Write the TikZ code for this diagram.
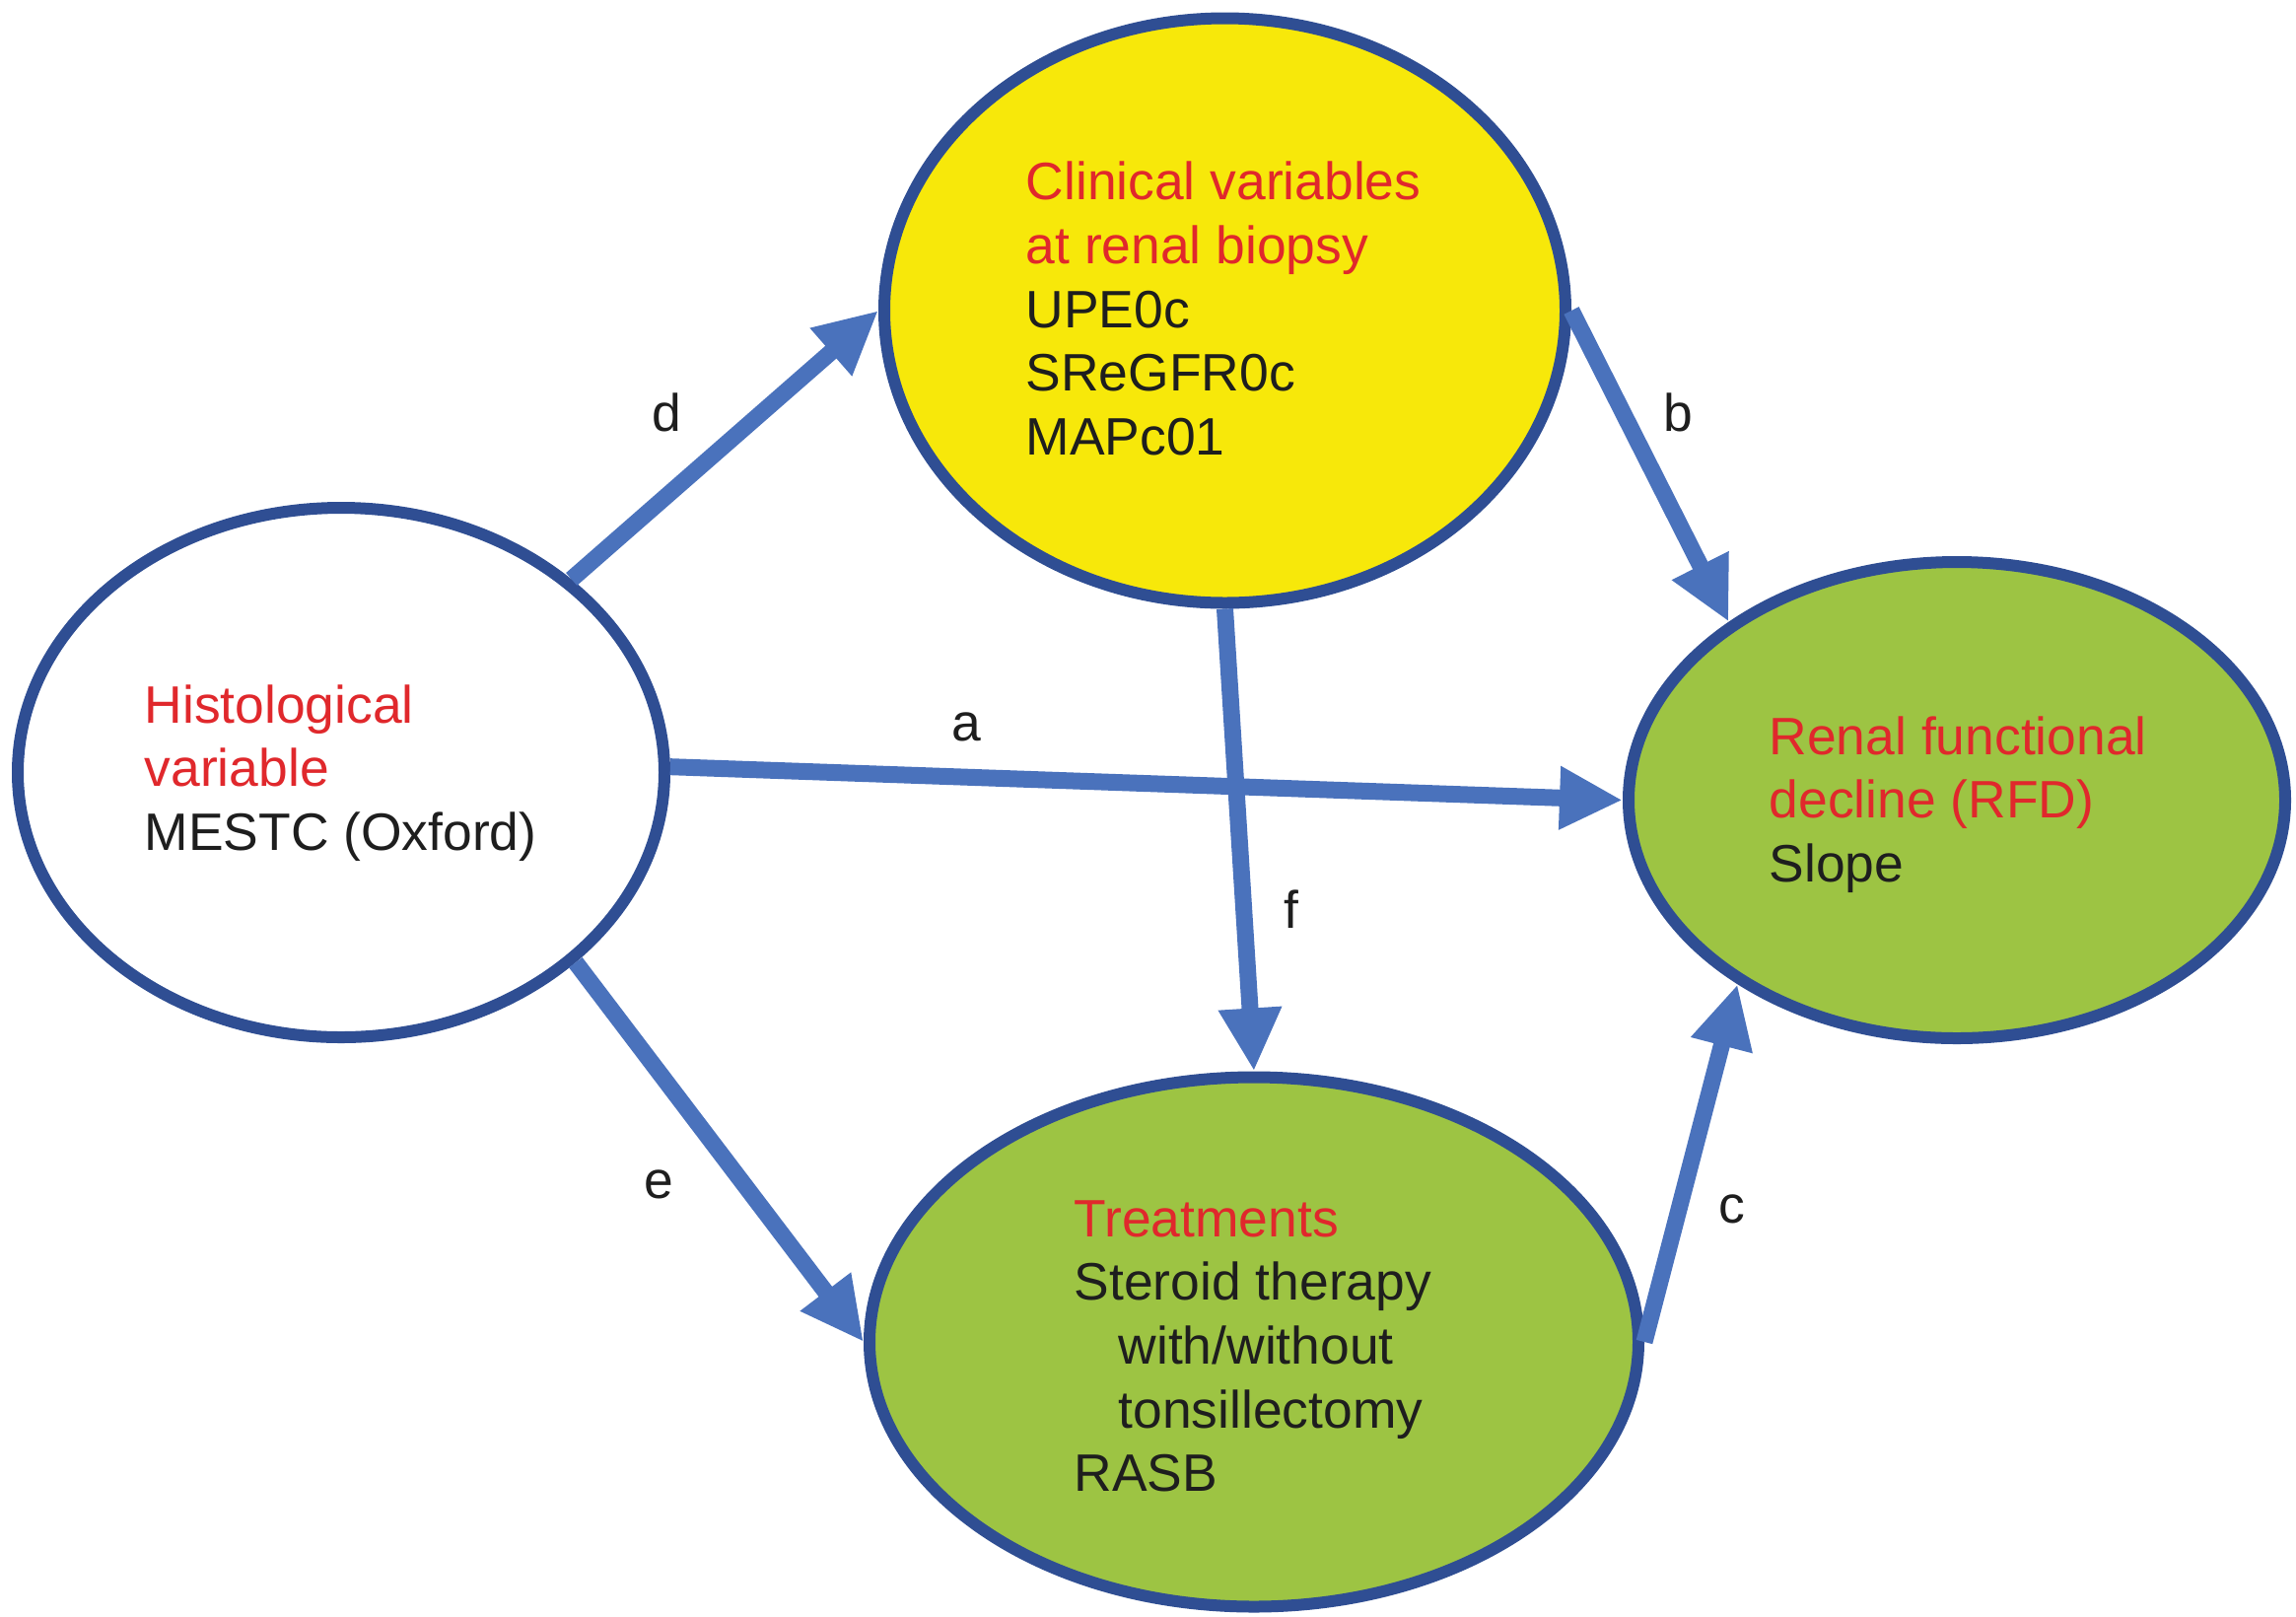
\documentclass[tikz,border=0pt]{standalone}
\usepackage{fontspec}
\setmainfont{Liberation Sans}
\usetikzlibrary{shapes.geometric,arrows.meta,positioning}
\definecolor{rimblue}{HTML}{2F4E93}
\definecolor{arrowblue}{HTML}{4A72BC}
\definecolor{clinyellow}{HTML}{F7E80A}
\definecolor{leafgreen}{HTML}{9DC443}
\definecolor{headred}{HTML}{E0282C}
\definecolor{bodyblack}{HTML}{1E1E1E}

\begin{document}
\begin{tikzpicture}[x=1cm, y=1cm, >={Triangle[length=0.64cm,width=0.6cm]},
	every oval/.style={ellipse, draw=rimblue, line width=0.12cm, inner sep=0pt},
	every block/.style={anchor=west, align=left, inner sep=0pt, text=bodyblack, font=\fontsize{15.2}{18.4}\selectfont},
	flow/.style={->, color=arrowblue, line width=0.17cm},
	edge label/.style={text=bodyblack, font=\fontsize{15.2}{18.4}\selectfont}]
		
		\useasboundingbox (0,0) rectangle (23.29,-16.39);
		
		\node [every oval, fill=white, minimum width=6.56cm, minimum height=5.37cm] (hist) at (3.46,-7.835) {};
		\node [every oval, fill=clinyellow, minimum width=6.91cm, minimum height=5.93cm] (clin) at (12.425,-3.15) {};
		\node [every oval, fill=leafgreen, minimum width=6.66cm, minimum height=4.83cm] (rfd) at (19.85,-8.115) {};
		\node [every oval, fill=leafgreen, minimum width=7.80cm, minimum height=5.37cm] (treat) at (12.72,-13.61) {};
		
		\node [every block] (hist-text) at (1.46,-7.84)
		{\textcolor{headred}{Histological}\\\textcolor{headred}{variable}\\MESTC (Oxford)};
		\node [every block] (clin-text) at (10.40,-3.13)
		{\textcolor{headred}{Clinical variables}\\\textcolor{headred}{at renal biopsy}\\UPE0c\\SReGFR0c\\MAPc01};
		\node [every block] (rfd-text) at (17.94,-8.16)
		{\textcolor{headred}{Renal functional}\\\textcolor{headred}{decline (RFD)}\\Slope};
		\node [every block] (treat-text) at (10.89,-13.655)
		{\textcolor{headred}{Treatments}\\Steroid therapy\\\hspace*{0.45cm}with/without\\\hspace*{0.45cm}tonsillectomy\\RASB};
		
		\foreach \s/\t in {hist.1/rfd.180, clin.0/rfd.142, treat.0/rfd.220, hist.40/clin.180, hist.-39/treat.180, clin.270/treat.90}
		\draw [flow] (\s) -- (\t);
		
		\foreach \l/\x/\y in {a/9.80/7.37, b/17.02/4.18, c/17.57/12.26, d/6.76/4.18, e/6.68/12.01, f/13.10/9.22}
		\node [edge label] (label-\l) at (\x,-\y) {\l};
		
\end{tikzpicture}
\end{document}
